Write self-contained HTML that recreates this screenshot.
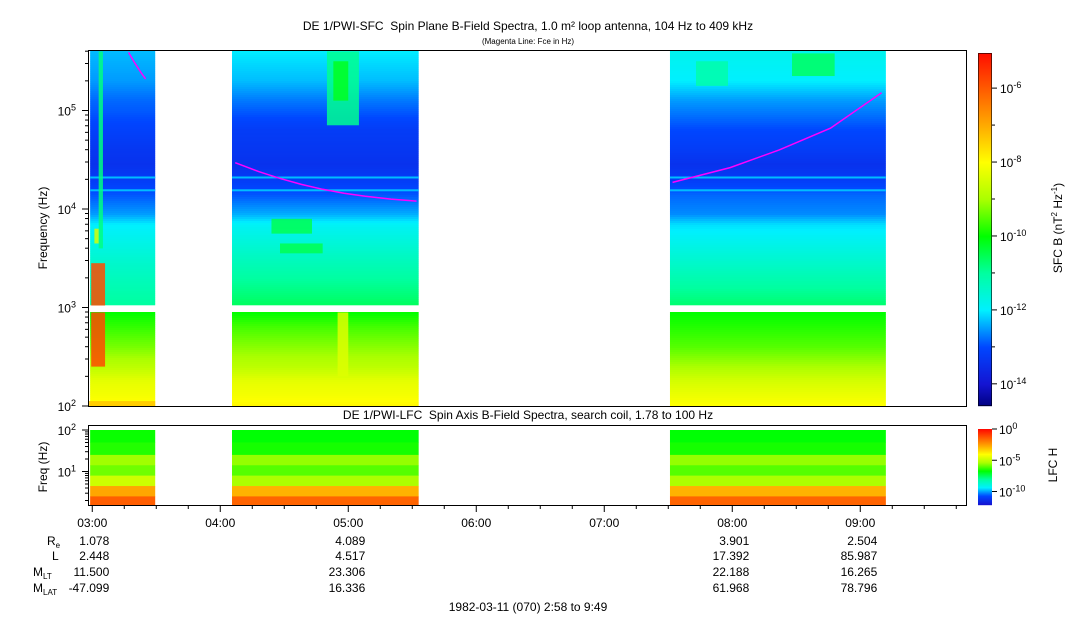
<!DOCTYPE html>
<html><head><meta charset="utf-8">
<style>
body{margin:0;background:#fff;font-family:"Liberation Sans",sans-serif;}
svg text{font-family:"Liberation Sans",sans-serif;fill:#000;white-space:pre;}
</style></head>
<body>
<svg id="c" width="1083" height="620" xmlns="http://www.w3.org/2000/svg">
<rect width="1083" height="620" fill="#fff"/>
<text x="528" y="30" font-size="12" text-anchor="middle">DE 1/PWI-SFC&#160; Spin Plane B-Field Spectra, 1.0 m² loop antenna, 104 Hz to 409 kHz</text>
<text x="528" y="44" font-size="8" text-anchor="middle">(Magenta Line: Fce in Hz)</text>
<text x="528" y="419" font-size="12" text-anchor="middle">DE 1/PWI-LFC&#160; Spin Axis B-Field Spectra, search coil, 1.78 to 100 Hz</text>
<g id="upper"></g>
<g id="lower"></g>
<g id="axes"></g>
<text transform="translate(47,228) rotate(-90)" font-size="12" text-anchor="middle">Frequency (Hz)</text>
<text transform="translate(47,467) rotate(-90)" font-size="12" text-anchor="middle">Freq (Hz)</text>
<text transform="translate(1062,228) rotate(-90)" font-size="12" text-anchor="middle">SFC B (nT<tspan font-size="8" dy="-5">2</tspan><tspan dy="5"> Hz</tspan><tspan font-size="8" dy="-5">-1</tspan><tspan dy="5">)</tspan></text>
<text transform="translate(1057,465) rotate(-90)" font-size="12" text-anchor="middle">LFC H</text>
<text x="528" y="611" font-size="12" text-anchor="middle">1982-03-11 (070) 2:58 to 9:49</text>
</svg>
<script>
// ---- data ----
const segStart=[1,67.5,272.8];           // minutes after 02:58
const segEnd=[31.5,155,374];
const profFreq=[5.62,5.3,5.1,4.98,4.8,4.6,4.45,4.3,4.14,3.95,3.84,3.48,3.03];
const profA=[-12.3,-12.5,-12.8,-12.9,-13.1,-13.3,-13.4,-13.2,-12.9,-12.5,-12.0,-11.5,-11.0];
const profB=[-12.0,-12.3,-12.7,-12.9,-13.2,-13.3,-13.4,-13.2,-12.9,-12.4,-11.9,-11.3,-10.6];
const profC=[-11.8,-12.0,-12.5,-12.7,-13.0,-13.2,-13.4,-13.2,-12.8,-12.6,-12.1,-11.5,-10.7];
const lowFreq=[2.95,2.8,2.6,2.4,2.25,2.1,2.0];
const lowA=[-10.0,-9.7,-9.3,-8.8,-8.3,-8.1,-7.9];
const lowB=[-10.0,-9.6,-9.2,-8.8,-8.3,-8.1,-7.9];
const lowC=[-10.0,-9.8,-9.5,-9.0,-8.5,-8.2,-8.0];
// features: [t0,t1,logf0,logf1,value]
const feats=[[1.5,8,3.02,3.45,-5.8],[1.5,8,2.4,2.95,-5.8],[5,7,3.6,5.6,-10.8],[3,5,3.65,3.8,-8.5],
 [112,127,4.85,5.6,-10.9],[115,122,5.1,5.5,-10.2],[117,122,2.3,2.95,-8.4],[86,105,3.75,3.9,-10.5],[90,110,3.55,3.65,-10.5],
 [0.5,31.5,2.0,2.05,-7.3],[285,300,5.25,5.5,-11.1],[330,350,5.35,5.58,-10.6]];
const fceT=[[19,22,25,27],[69,80,90,100,110,120,130,142,154],[274,301,324,348,372]];
const fceF=[[5.59,5.48,5.38,5.32],[4.47,4.38,4.31,4.25,4.2,4.16,4.13,4.10,4.08],[4.27,4.42,4.60,4.82,5.18]];
const lfcBands=[2.0,1.7,1.4,1.15,0.9,0.65,0.4,0.25];   // band edges log Hz
const lfcA=[-6.6,-6.4,-5.4,-5.8,-4.8,-2.6,-1.4];
const lfcB=[-6.7,-6.5,-5.5,-6.0,-5.3,-2.8,-1.5];
const lfcC=[-6.7,-6.5,-5.5,-6.0,-5.3,-2.8,-1.5];
const hours=["03:00","04:00","05:00","06:00","07:00","08:00","09:00"];
const ephT=[2,122,302,362];
const ephRe=["1.078","4.089","3.901","2.504"];
const ephL=["2.448","4.517","17.392","85.987"];
const ephMLT=["11.500","23.306","22.188","16.265"];
const ephMLAT=["-47.099","16.336","61.968","78.796"];
// ---- scales ----
const X0=88,PX=128/60;
const tx=m=>X0+m*PX;
const fy=l=>406-(l-2)*98.5;
const ly=l=>430+(2-l)*41.5;
const cmV=[-14.6,-14,-13,-12,-11,-10,-9,-8,-7,-6,-5];
const cmC=[[0,0,128],[20,20,210],[0,70,255],[0,240,255],[0,255,160],[0,255,0],[170,255,0],[255,255,0],[255,170,0],[255,90,0],[255,10,0]];
function cU(v){if(v<=cmV[0])return `rgb(${cmC[0]})`;for(let i=0;i<cmV.length-1;i++){if(v<=cmV[i+1]){const u=(v-cmV[i])/(cmV[i+1]-cmV[i]);
 return 'rgb('+cmC[i].map((c,k)=>Math.round(c+u*(cmC[i+1][k]-c))).join(',')+')';}}return `rgb(${cmC[cmC.length-1]})`;}
const cL=v=>cU(-5+0.75*v);
const NS="http://www.w3.org/2000/svg";
function mk(p,tag,a){const e=document.createElementNS(NS,tag);for(const k in a)e.setAttribute(k,a[k]);p.appendChild(e);return e;}
function interp(xs,ys,x){if(x>=xs[0])return ys[0];for(let i=0;i<xs.length-1;i++){if(x<=xs[i]&&x>=xs[i+1]){const u=(x-xs[i])/(xs[i+1]-xs[i]);return ys[i]+u*(ys[i+1]-ys[i]);}}return ys[ys.length-1];}
const U=document.getElementById('upper'),L=document.getElementById('lower'),A=document.getElementById('axes');
const profs=[profA,profB,profC],lows=[lowA,lowB,lowC],lfcs=[lfcA,lfcB,lfcC];
for(let s=0;s<3;s++){
 const x0=tx(segStart[s]),w=tx(segEnd[s])-x0;
 for(let y=51;y<305;y+=2){const l=2+(406-y-1)/98.5;
  const r=mk(U,'rect',{x:x0,y:y,width:w,height:2.3,fill:cU(interp(profFreq,profs[s],l))});
  }
 for(let y=312;y<406;y+=2){const l=2+(406-y-1)/98.5;
  const r=mk(U,'rect',{x:x0,y:y,width:w,height:2.3,fill:cU(interp(lowFreq,lows[s],l))});
  }
 for(let b=0;b<7;b++){const y0=Math.max(426,ly(lfcBands[b])),y1=b==6?505:ly(lfcBands[b+1]);
  const r=mk(L,'rect',{x:x0,y:y0,width:w,height:y1-y0+0.3,fill:cL(lfcs[s][b])});
  }
}
for(let s=0;s<3;s++){const x0=tx(segStart[s]),w=tx(segEnd[s])-x0;
 for(const l of [4.33,4.2]){const r=mk(U,'rect',{x:x0,y:fy(l),width:w,height:2,fill:cU(-12.3)});
 }}
for(const f of feats){const r=mk(U,'rect',{x:tx(f[0]),y:fy(f[3]),width:tx(f[1])-tx(f[0]),height:fy(f[2])-fy(f[3]),fill:cU(f[4]),opacity:0.85});
 }
for(let s=0;s<3;s++){const pts=fceT[s].map((t,i)=>tx(t)+','+fy(fceF[s][i])).join(' ');
 const p=mk(U,'polyline',{points:pts,fill:'none',stroke:'#ff00ff','stroke-width':1.5});
 }
mk(A,'rect',{x:88.5,y:50.5,width:878,height:356,fill:'none',stroke:'#000'});
mk(A,'rect',{x:88.5,y:425.5,width:878,height:80,fill:'none',stroke:'#000'});
for(let d=2;d<=5;d++){for(let k=1;k<10;k++){const l=d+Math.log10(k);if(l>5.62)break;const y=fy(l);
 mk(A,'line',{x1:k==1?82:85,x2:88,y1:y,y2:y,stroke:'#000'});}
 const t=mk(A,'text',{x:76,y:fy(d)+5,'font-size':12,'text-anchor':'end'});t.innerHTML=`10<tspan font-size="9" dy="-5">${d}</tspan>`;
 }
for(let d=0;d<=1;d++){for(let k=1;k<10;k++){const l=d+Math.log10(k);if(l<0.25)continue;if(l>2)break;const y=ly(l);
 mk(A,'line',{x1:k==1?82:85,x2:88,y1:y,y2:y,stroke:'#000'});}}
mk(A,'line',{x1:82,x2:88,y1:ly(2),y2:ly(2),stroke:'#000'});
for(const d of [1,2]){const t=mk(A,'text',{x:76,y:ly(d)+5,'font-size':12,'text-anchor':'end'});t.innerHTML=`10<tspan font-size="9" dy="-5">${d}</tspan>`;
 }
for(let m=2;m<=411;m+=15){const x=tx(m),maj=(m-2)%60==0;
 mk(A,'line',{x1:x,x2:x,y1:506,y2:maj?512:509,stroke:'#000'});}
hours.forEach((h,i)=>{const t=mk(A,'text',{x:tx(2+60*i),y:527,'font-size':12,'text-anchor':'middle'});t.textContent=h;
 });
const rows=[ephRe,ephL,ephMLT,ephMLAT],ry=[545,560,576,592];
const rl=['R<tspan font-size="8" dy="3">e</tspan>','L','M<tspan font-size="8" dy="3">LT</tspan>','M<tspan font-size="8" dy="3">LAT</tspan>'];
const rx=[47,52,33,33];
rows.forEach((r,i)=>{const t=mk(A,'text',{x:rx[i],y:ry[i],'font-size':12});t.innerHTML=rl[i];
 
 r.forEach((v,j)=>{const e=mk(A,'text',{x:tx(ephT[j])+17,y:ry[i],'font-size':12,'text-anchor':'end'});e.textContent=v;
 });});
for(let y=53;y<406;y++){const v=-14.6+(406-y)/353*9.55;mk(A,'rect',{x:978,y:y,width:14,height:1.2,fill:cU(v)});}
mk(A,'rect',{x:978.5,y:53.5,width:13,height:352,fill:'none',stroke:'#000','stroke-width':0.6});
[-6,-8,-10,-12,-14].forEach(e=>{const y=406-(e+14.6)/9.55*353;mk(A,'line',{x1:992,x2:997,y1:y,y2:y,stroke:'#000'});
 const t=mk(A,'text',{x:1000,y:y+5,'font-size':12});t.innerHTML=`10<tspan font-size="9" dy="-5">${e}</tspan>`;
 });
[-7,-9,-11,-13].forEach(e=>{const y=406-(e+14.6)/9.55*353;mk(A,'line',{x1:992,x2:995,y1:y,y2:y,stroke:'#000'});});
for(let y=429;y<505;y++){const v=-(y-429)/75*12;mk(A,'rect',{x:978,y:y,width:14,height:1.2,fill:cL(v)});}
[0,-5,-10].forEach(e=>{const y=429-e*75/12;mk(A,'line',{x1:992,x2:997,y1:y,y2:y,stroke:'#000'});
 const t=mk(A,'text',{x:999,y:y+5,'font-size':12});t.innerHTML=`10<tspan font-size="9" dy="-5">${e}</tspan>`;
 });
</script>
</body></html>
